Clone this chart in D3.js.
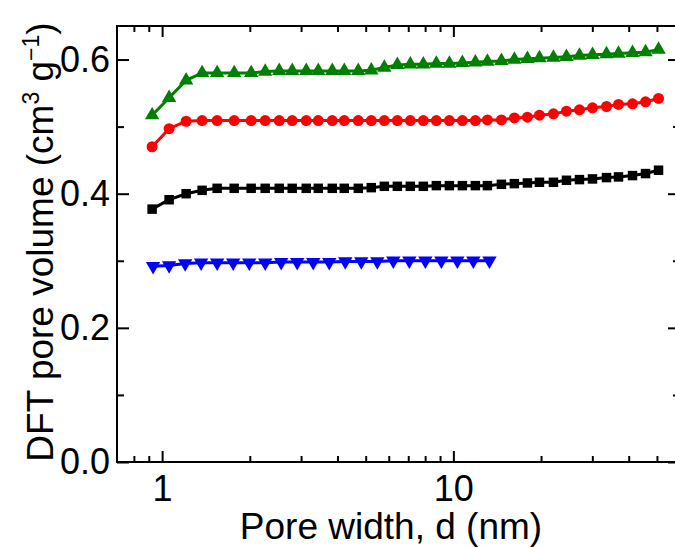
<!DOCTYPE html>
<html>
<head>
<meta charset="utf-8">
<script src="https://cdn.jsdelivr.net/npm/d3@7"></script>
<style>
  html, body { margin: 0; padding: 0; background: #fff; }
  svg { display: block; }
  text { font-family: "Liberation Sans", Arial, sans-serif; }
</style>
</head>
<body>
<div id="chart"></div>
<script>
// ---- data ----
const poreWidth = [0.924, 1.057, 1.209, 1.372, 1.545, 1.768, 2.022, 2.259, 2.524, 2.797,
  3.125, 3.437, 3.839, 4.221, 4.716, 5.226, 5.794, 6.422, 7.116, 7.886,
  8.741, 9.690, 10.74, 11.90, 13.09, 14.62, 16.20, 17.96, 19.75, 22.06,
  24.45, 27.10, 30.04, 33.56, 36.90, 41.22, 45.69, 50.64];
const greenVol = [0.517, 0.543, 0.569, 0.580, 0.580, 0.580, 0.580, 0.582, 0.583, 0.583,
  0.583, 0.583, 0.583, 0.583, 0.583, 0.584, 0.588, 0.592, 0.593, 0.593,
  0.594, 0.594, 0.595, 0.596, 0.597, 0.598, 0.600, 0.601, 0.602, 0.603,
  0.604, 0.606, 0.607, 0.608, 0.609, 0.610, 0.611, 0.615];
const redVol = [0.470, 0.497, 0.508, 0.509, 0.509, 0.509, 0.509, 0.509, 0.509, 0.509,
  0.509, 0.509, 0.509, 0.509, 0.509, 0.509, 0.509, 0.509, 0.509, 0.509,
  0.509, 0.509, 0.509, 0.509, 0.510, 0.510, 0.513, 0.514, 0.517, 0.519,
  0.523, 0.525, 0.528, 0.530, 0.533, 0.534, 0.537, 0.542];
const blackVol = [0.377, 0.391, 0.400, 0.405, 0.408, 0.408, 0.408, 0.408, 0.408, 0.408,
  0.408, 0.408, 0.408, 0.408, 0.408, 0.409, 0.411, 0.411, 0.411, 0.411,
  0.412, 0.412, 0.412, 0.412, 0.412, 0.414, 0.415, 0.416, 0.417, 0.417,
  0.420, 0.421, 0.422, 0.424, 0.425, 0.427, 0.430, 0.435];
const bluePoreWidth = [0.931, 1.057, 1.200, 1.361, 1.545, 1.754, 1.991, 2.259, 2.564, 2.910,
  3.303, 3.749, 4.255, 4.829, 5.481, 6.220, 7.060, 8.013, 9.094, 10.32, 11.71, 13.30];
const blueVol = [0.292, 0.293, 0.296, 0.297, 0.297, 0.297, 0.297, 0.297, 0.298, 0.298,
  0.298, 0.298, 0.299, 0.299, 0.299, 0.300, 0.300, 0.300, 0.300, 0.300, 0.300, 0.300];

const xMajor = [1, 10];
const xMinor = [0.8, 0.9, 2, 3, 4, 5, 6, 7, 8, 9, 20, 30, 40, 50];
const yMajor = [0.0, 0.2, 0.4, 0.6];
const yMinor = [0.1, 0.3, 0.5];

const series = [
  { name: "black", x: poreWidth, y: blackVol, color: "#000000", symbol: d3.symbolSquare, size: 90, rot: 0 },
  { name: "red", x: poreWidth, y: redVol, color: "#ff0000", symbol: d3.symbolCircle, size: 95, rot: 0 },
  { name: "green", x: poreWidth, y: greenVol, color: "#008000", symbol: d3.symbolTriangle, size: 90, rot: 0 },
  { name: "blue", x: bluePoreWidth, y: blueVol, color: "#0000ff", symbol: d3.symbolTriangle, size: 90, rot: 180 }
];

// ---- layout ----
const W = 675, H = 547;
const L = 117, R = 680, T = 26, B = 462;

const svg = d3.select("#chart").append("svg").attr("width", W).attr("height", H);

const x = d3.scaleLog().domain([0.7, 60]).range([L, R]);
const y = d3.scaleLinear().domain([0, 0.65]).range([B, T]);

const tickFont = 36, titleFont = 37;

function styleAxis(g) {
  g.select(".domain").remove();
  g.selectAll(".tick line").attr("stroke", "#000").attr("stroke-width", 2);
  g.selectAll("text").attr("fill", "#000").style("font-size", tickFont + "px");
}

// bottom
svg.append("g").attr("transform", `translate(0,${B})`)
  .call(d3.axisBottom(x).tickValues(xMajor).tickFormat(d3.format("d")).tickSizeInner(-11).tickSizeOuter(0).tickPadding(13))
  .call(styleAxis);
svg.append("g").attr("transform", `translate(0,${B})`)
  .call(d3.axisBottom(x).tickValues(xMinor).tickFormat("").tickSizeInner(-6).tickSizeOuter(0))
  .call(styleAxis);
// top
svg.append("g").attr("transform", `translate(0,${T})`)
  .call(d3.axisTop(x).tickValues(xMajor).tickFormat("").tickSizeInner(-11).tickSizeOuter(0))
  .call(styleAxis);
svg.append("g").attr("transform", `translate(0,${T})`)
  .call(d3.axisTop(x).tickValues(xMinor).tickFormat("").tickSizeInner(-6).tickSizeOuter(0))
  .call(styleAxis);
// left
svg.append("g").attr("transform", `translate(${L},0)`)
  .call(d3.axisLeft(y).tickValues(yMajor).tickFormat(d3.format(".1f")).tickSizeInner(-12).tickSizeOuter(0).tickPadding(7))
  .call(styleAxis);
svg.append("g").attr("transform", `translate(${L},0)`)
  .call(d3.axisLeft(y).tickValues(yMinor).tickFormat("").tickSizeInner(-7).tickSizeOuter(0))
  .call(styleAxis);
// right
svg.append("g").attr("transform", `translate(${R},0)`)
  .call(d3.axisRight(y).tickValues(yMajor).tickFormat("").tickSizeInner(-12).tickSizeOuter(0))
  .call(styleAxis);
svg.append("g").attr("transform", `translate(${R},0)`)
  .call(d3.axisRight(y).tickValues(yMinor).tickFormat("").tickSizeInner(-7).tickSizeOuter(0))
  .call(styleAxis);

// frame
svg.append("rect").attr("x", L).attr("y", T).attr("width", R - L).attr("height", B - T)
  .attr("fill", "none").attr("stroke", "#000").attr("stroke-width", 2);

// series
const line = d3.line().x(d => x(d[0])).y(d => y(d[1]));
series.forEach(s => {
  const pts = s.x.map((xv, i) => [xv, s.y[i]]);
  svg.append("path").datum(pts).attr("d", line)
    .attr("fill", "none").attr("stroke", s.color).attr("stroke-width", 3);
  svg.append("g").selectAll("path").data(pts).join("path")
    .attr("d", d3.symbol().type(s.symbol).size(s.size))
    .attr("transform", d => `translate(${x(d[0])},${y(d[1])}) rotate(${s.rot})`)
    .attr("fill", s.color);
});

// axis titles
svg.append("text").attr("x", 391).attr("y", 539)
  .attr("text-anchor", "middle").style("font-size", titleFont + "px").attr("fill", "#000")
  .text("Pore width, d (nm)");

const yt = svg.append("text")
  .attr("transform", `translate(53,${(T + B) / 2 - 2}) rotate(-90)`)
  .attr("text-anchor", "middle").style("font-size", titleFont + "px").attr("fill", "#000");
yt.append("tspan").text("DFT pore volume (cm");
yt.append("tspan").attr("dy", -14).style("font-size", "23px").text("3");
yt.append("tspan").attr("dy", 14).text(" g");
yt.append("tspan").attr("dy", -14).style("font-size", "23px").text("\u22121");
yt.append("tspan").attr("dy", 14).text(")");
</script>
</body>
</html>
